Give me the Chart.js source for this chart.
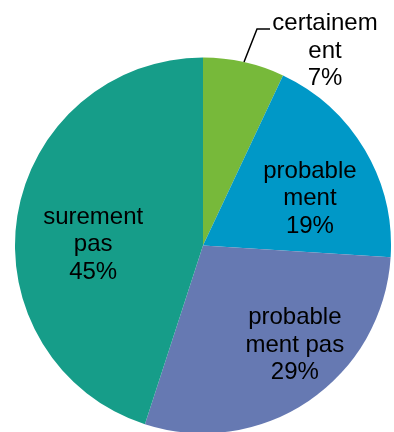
<!DOCTYPE html>
<html lang="fr">
<head>
  <meta charset="UTF-8">
  <title>Réponses</title>
  <script src="https://cdn.jsdelivr.net/npm/chart.js"></script>
  <style>
    html, body { margin: 0; padding: 0; background: #fff; overflow: hidden; }
    .chart-container { position: relative; width: 394px; height: 434px; }
  </style>
</head>
<body>
  <div class="chart-container">
    <canvas id="pieChart"></canvas>
  </div>

  <script>
    // Parts des réponses, dans le sens horaire depuis midi
    const categories = [
      ['certainem', 'ent'],
      ['probable', 'ment'],
      ['probable', 'ment pas'],
      ['surement', 'pas']
    ];
    const percents = [7, 19, 29, 45];
    const colors = ['#77b93a', '#0098c7', '#6679b2', '#169d89'];
    // décalage des étiquettes par rapport au milieu de chaque part
    const labelShift = [[81, -11], [26, 1], [39, 22], [-17, 14]];

    const sliceLabels = {
      id: 'sliceLabels',
      afterDatasetsDraw(chart) {
        const ctx = chart.ctx;
        const arcs = chart.getDatasetMeta(0).data;
        ctx.save();
        ctx.font = '24px "Liberation Sans", Arial, sans-serif';
        ctx.fillStyle = '#000';
        ctx.textAlign = 'center';
        ctx.textBaseline = 'middle';
        arcs.forEach((arc, i) => {
          const mid = (arc.startAngle + arc.endAngle) / 2;
          let x, y;
          if (i === 0) {
            // petite part : étiquette à l'extérieur avec un trait
            const ex = arc.x + Math.cos(mid) * arc.outerRadius;
            const ey = arc.y + Math.sin(mid) * arc.outerRadius;
            ctx.beginPath();
            ctx.strokeStyle = '#000';
            ctx.lineWidth = 1.5;
            ctx.moveTo(ex, ey);
            ctx.lineTo(ex + 13, ey - 33);
            ctx.lineTo(ex + 26, ey - 33);
            ctx.stroke();
            x = ex + labelShift[i][0];
            y = ey + labelShift[i][1];
          } else {
            const p = arc.tooltipPosition();
            x = p.x + labelShift[i][0];
            y = p.y + labelShift[i][1];
          }
          const lines = categories[i].concat([percents[i] + '%']);
          lines.forEach((t, k) => {
            ctx.fillText(t, x, y + (k - 1) * 27.5);
          });
        });
        ctx.restore();
      }
    };

    new Chart(document.getElementById('pieChart'), {
      type: 'pie',
      data: {
        labels: categories.map(c => c.join('')),
        datasets: [{
          data: percents,
          backgroundColor: colors,
          borderWidth: 0
        }]
      },
      options: {
        responsive: true,
        maintainAspectRatio: false,
        animation: false,
        layout: { padding: { top: 57, bottom: 0, left: 15, right: 3 } },
        plugins: {
          legend: { display: false },
          tooltip: { enabled: false }
        }
      },
      plugins: [sliceLabels]
    });
  </script>
</body>
</html>
